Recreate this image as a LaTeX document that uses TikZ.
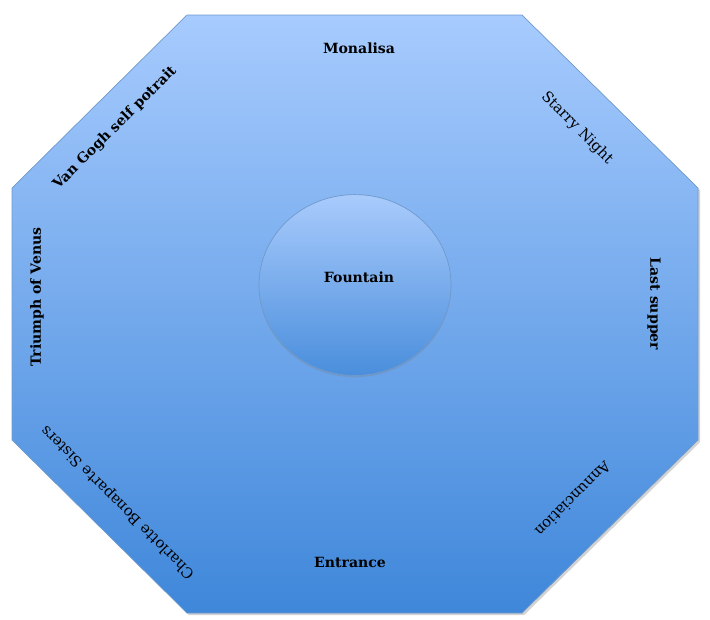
\documentclass[tikz,border=0pt]{standalone}
\usepackage{fontspec}
\setmainfont{DejaVu Serif}
\usetikzlibrary{shadows, shapes.geometric}
\definecolor{hallTop}{HTML}{A7CBFE}
\definecolor{hallBottom}{HTML}{3F87DA}
\definecolor{hallEdge}{HTML}{6F9ACB}
\definecolor{poolTop}{HTML}{A9CBFC}
\definecolor{poolBottom}{HTML}{4A8EDC}
\tikzstyle{wall} = [draw=hallEdge, line width=0.5pt, top color=hallTop, bottom color=hallBottom, drop shadow={shadow xshift=1.5pt, shadow yshift=-1.5pt, opacity=0.35}]
\tikzstyle{pool} = [ellipse, draw=hallEdge, line width=0.5pt, top color=poolTop, bottom color=poolBottom, minimum width=4.8cm, minimum height=4.52cm, inner sep=0pt, drop shadow={shadow xshift=0pt, shadow yshift=-1.2pt, opacity=0.3}]
\tikzstyle{painting} = [font=\fontsize{10}{12}\selectfont\bfseries, text=black, inner sep=1pt]
\tikzstyle{plainpainting} = [font=\fontsize{10.5}{12}\selectfont, text=black, inner sep=1pt]

\begin{document}
\begin{tikzpicture}[x=0.025cm, y=-0.025cm]
    \useasboundingbox (0,0) rectangle (710,619);
    % gallery walls
    \path[wall] (187,15) -- (522,15) -- (698,188) -- (698,440) -- (522,613)
        -- (187,613) -- (12,440) -- (12,188) -- cycle;

    \node (fountain) [pool] at (355,285) {};
    \node (fountainlabel) [painting] at (359,277) {Fountain};

    \node (monalisa) [painting] at (359,48) {Monalisa};
    \node (starry) [plainpainting, rotate=-45] at (577,128) {Starry Night};
    \node (supper) [painting, rotate=-90] at (654,304) {Last supper};
    \node (annunc) [plainpainting, rotate=225] at (573,499) {Annunciation};
    \node (entrance) [painting] at (350,562) {Entrance};
    \node (sisters) [plainpainting, rotate=135] at (118,502) {Charlotte Bonaparte Sisters};
    \node (venus) [painting, rotate=90] at (37,297) {Triumph of Venus};
    \node (vangogh) [painting, rotate=45] at (115,128) {Van Gogh self potrait};
\end{tikzpicture}
\end{document}
